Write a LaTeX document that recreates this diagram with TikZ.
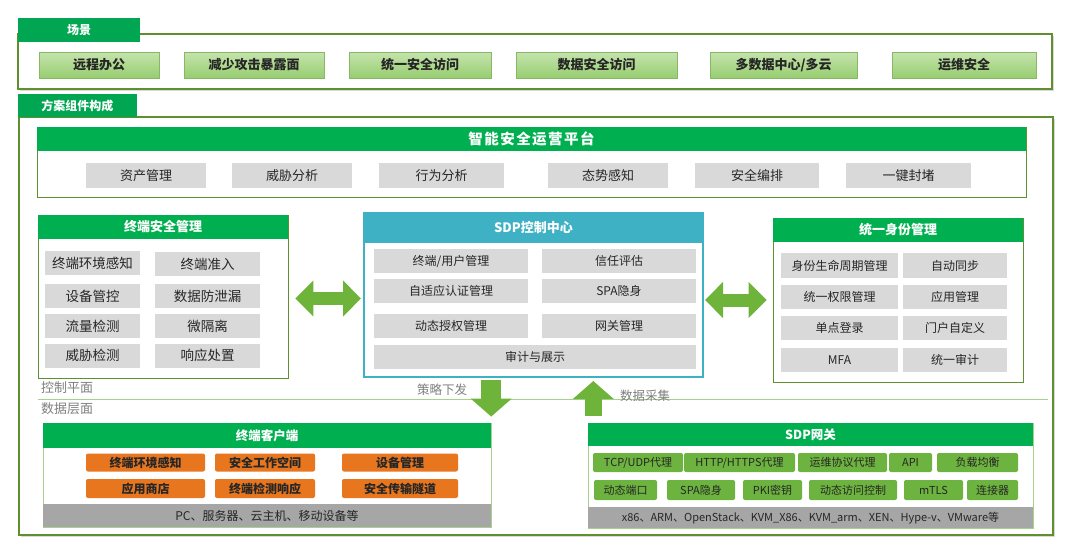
\documentclass[tikz,border=0pt]{standalone}
\usepackage{fontspec}
\setmainfont{Noto Sans CJK SC}
\usepackage{tikz}
\usetikzlibrary{arrows.meta, positioning, calc, shadows}
\definecolor{tabgreen}{HTML}{00A651}
\definecolor{headgreen}{HTML}{00B050}
\definecolor{olive}{HTML}{5F8F2F}
\definecolor{scenelt}{HTML}{C5E4AD}
\definecolor{scenedk}{HTML}{97CD70}
\definecolor{itemgray}{HTML}{D9D9D9}
\definecolor{sdpteal}{HTML}{3EB1C4}
\definecolor{arrowgreen}{HTML}{6FB43A}
\definecolor{clientorange}{HTML}{E8761E}
\definecolor{gwgreen}{HTML}{6DB33F}
\definecolor{footgray}{HTML}{A6A6A6}
\definecolor{lightline}{HTML}{A9D18E}
\definecolor{labelgray}{HTML}{7F7F7F}
\definecolor{textdark}{HTML}{262626}

\begin{document}
\begin{tikzpicture}[
    x=1pt, y=-1pt,
    tabnode/.style={fill=tabgreen, text=white, font=\fontsize{12}{14}\selectfont\bfseries, inner sep=0pt},
    outerbox/.style={draw=olive, line width=1.6pt, fill=white, inner sep=0pt,
                     drop shadow={shadow xshift=1.5pt, shadow yshift=-1.5pt, opacity=.3}},
    sceneitem/.style={draw=scenedk!90!black, line width=0.4pt, top color=scenelt, bottom color=scenedk,
                      text=textdark, font=\fontsize{13}{15}\selectfont\bfseries, inner sep=0pt, minimum height=26pt},
    panel/.style={draw=olive, line width=0.8pt, fill=white, inner sep=0pt},
    panelhead/.style={fill=headgreen, text=white, font=\fontsize{13}{15}\selectfont\bfseries,
                      inner sep=0pt, anchor=north},
    grayitem/.style={fill=itemgray, text=textdark, font=\fontsize{12}{14}\selectfont,
                     inner sep=0pt, minimum height=24pt},
    bigitem/.style={grayitem, font=\fontsize{13.5}{15}\selectfont},
    clientitem/.style={fill=clientorange, rounded corners=2pt, text=textdark,
                       font=\fontsize{12}{14}\selectfont\bfseries, inner sep=0pt},
    gwitem/.style={fill=gwgreen, rounded corners=2pt, text=textdark,
                   font=\fontsize{11}{13}\selectfont, inner sep=0pt, minimum height=19pt},
    footbar/.style={fill=footgray, text=textdark, font=\fontsize{11}{13}\selectfont,
                    inner sep=0pt, anchor=south},
    planelabel/.style={text=labelgray, font=\fontsize{13}{15}\selectfont, inner sep=0pt},
    fatboth/.style={arrowgreen, line width=13pt,
                    {Triangle[length=18pt, width=35pt]}-{Triangle[length=18pt, width=35pt]}},
    fatone/.style={arrowgreen, -{Triangle[length=18pt, width=40pt]}}
]
    \useasboundingbox (0,0) rectangle (1080,550);

    % scenarios
    \node[outerbox, minimum width=1034pt, minimum height=55pt] (scene) at (535,61.5) {};
    \node[tabnode, minimum width=122pt, minimum height=24pt] (scenetab) at (79,30) {场景};
    \node[sceneitem, minimum width=120pt] (s1) at (99,65) {远程办公};
    \node[sceneitem, minimum width=140pt] (s2) at (254,65) {减少攻击暴露面};
    \node[sceneitem, minimum width=142pt] (s3) at (420,65) {统一安全访问};
    \node[sceneitem, minimum width=161pt] (s4) at (596.5,65) {数据安全访问};
    \node[sceneitem, minimum width=147pt] (s5) at (783.5,65) {多数据中心/多云};
    \node[sceneitem, minimum width=144pt] (s6) at (964,65) {运维安全};

    % solution components
    \node[outerbox, minimum width=1034pt, minimum height=418pt] (solution) at (536,326) {};
    \node[tabnode, minimum width=119pt, minimum height=23pt] (solutiontab) at (77.5,105.5) {方案组件构成};

    % operations platform
    \node[panel, minimum width=989pt, minimum height=70pt] (soc) at (531.5,162) {};
    \node[panelhead, minimum width=989pt, minimum height=24pt,
          font=\fontsize{14.5}{16}\selectfont\bfseries\addfontfeature{LetterSpace=10}] (sochead) at (soc.north) {智能安全运营平台};
    \node[grayitem, font=\fontsize{13}{15}\selectfont, minimum width=120pt, minimum height=25pt] (p1) at (146,175.5) {资产管理};
    \node[grayitem, font=\fontsize{13}{15}\selectfont, minimum width=120pt, minimum height=25pt] (p2) at (292,175.5) {威胁分析};
    \node[grayitem, font=\fontsize{13}{15}\selectfont, minimum width=125pt, minimum height=25pt] (p3) at (441.5,175.5) {行为分析};
    \node[grayitem, font=\fontsize{13}{15}\selectfont, minimum width=120pt, minimum height=25pt] (p4) at (608,175.5) {态势感知};
    \node[grayitem, font=\fontsize{13}{15}\selectfont, minimum width=124pt, minimum height=25pt] (p5) at (757,175.5) {安全编排};
    \node[grayitem, font=\fontsize{13}{15}\selectfont, minimum width=125pt, minimum height=25pt] (p6) at (908.5,175.5) {一键封堵};

    % terminal security management
    \node[panel, minimum width=250pt, minimum height=163pt] (tsm) at (163,296.5) {};
    \node[panelhead, minimum width=250pt, minimum height=24pt] (tsmhead) at (tsm.north) {终端安全管理};
    \node[bigitem, minimum width=95pt] (t1) at (92.5,263) {终端环境感知};
    \node[bigitem, minimum width=105pt] (t2) at (207.5,264) {终端准入};
    \node[bigitem, minimum width=95pt] (t3) at (92.5,296) {设备管控};
    \node[bigitem, minimum width=105pt] (t4) at (207.5,296) {数据防泄漏};
    \node[bigitem, minimum width=95pt] (t5) at (92.5,326) {流量检测};
    \node[bigitem, minimum width=105pt] (t6) at (207.5,326) {微隔离};
    \node[bigitem, minimum width=95pt] (t7) at (92.5,355.5) {威胁检测};
    \node[bigitem, minimum width=105pt] (t8) at (207.5,355.5) {响应处置};

    % SDP controller
    \node[draw=sdpteal, line width=2pt, fill=white, inner sep=0pt,
          minimum width=339pt, minimum height=164pt] (sdp) at (533.5,295) {};
    \node[fill=sdpteal, text=white, font=\fontsize{13}{15}\selectfont\bfseries, inner sep=0pt,
          anchor=north, minimum width=339pt, minimum height=31pt] (sdphead) at (sdp.north) {SDP控制中心};
    \node[grayitem, minimum width=154pt] (c1) at (451,261) {终端/用户管理};
    \node[grayitem, minimum width=154pt] (c2) at (619,261) {信任评估};
    \node[grayitem, minimum width=154pt] (c3) at (451,291) {自适应认证管理};
    \node[grayitem, minimum width=154pt] (c4) at (619,291) {SPA隐身};
    \node[grayitem, minimum width=154pt] (c5) at (451,325.5) {动态授权管理};
    \node[grayitem, minimum width=154pt] (c6) at (619,325.5) {网关管理};
    \node[grayitem, minimum width=322pt] (c7) at (535,356.5) {审计与展示};

    % identity management
    \node[panel, minimum width=250pt, minimum height=164pt] (idm) at (898,300) {};
    \node[panelhead, minimum width=250pt, minimum height=24pt] (idmhead) at (idm.north) {统一身份管理};
    \node[grayitem, minimum width=117pt, minimum height=25pt] (i1) at (839.5,265.5) {身份生命周期管理};
    \node[grayitem, minimum width=104pt, minimum height=25pt] (i2) at (955,265.5) {自动同步};
    \node[grayitem, minimum width=117pt] (i3) at (839.5,296.5) {统一权限管理};
    \node[grayitem, minimum width=104pt] (i4) at (955,296.5) {应用管理};
    \node[grayitem, minimum width=117pt] (i5) at (839.5,328) {单点登录};
    \node[grayitem, minimum width=104pt] (i6) at (955,328) {门户自定义};
    \node[grayitem, minimum width=117pt] (i7) at (839.5,360) {MFA};
    \node[grayitem, minimum width=104pt] (i8) at (955,360) {统一审计};

    % control plane / data plane
    \draw[lightline, line width=1pt] (38,399) -- (1048,399);
    \node[planelabel, anchor=west] (ctrlplane) at (41,388) {控制平面};
    \node[planelabel, anchor=west] (dataplane) at (41,409) {数据层面};
    \node[planelabel, font=\fontsize{12.5}{14}\selectfont] (policy) at (442,390) {策略下发};
    \node[planelabel, font=\fontsize{12.5}{14}\selectfont] (collect) at (645,396) {数据采集};

    % terminal client
    \node[draw=lightline, line width=0.8pt, fill=white, inner sep=0pt,
          minimum width=448pt, minimum height=104pt] (client) at (267,475) {};
    \node[panelhead, font=\fontsize{12.5}{14}\selectfont\bfseries, minimum width=448pt, minimum height=25pt] (clienthead) at (client.north) {终端客户端};
    \node[clientitem, minimum width=119pt, minimum height=18pt] (e1) at (145.5,462.5) {终端环境感知};
    \node[clientitem, minimum width=100pt, minimum height=18pt] (e2) at (265,462.5) {安全工作空间};
    \node[clientitem, minimum width=116pt, minimum height=18pt] (e3) at (400,462.5) {设备管理};
    \node[clientitem, minimum width=119pt, minimum height=19pt] (e4) at (145.5,488.5) {应用商店};
    \node[clientitem, minimum width=100pt, minimum height=19pt] (e5) at (265,488.5) {终端检测响应};
    \node[clientitem, minimum width=116pt, minimum height=19pt] (e6) at (400,488.5) {安全传输隧道};
    \node[footbar, font=\fontsize{12}{14}\selectfont, minimum width=448pt, minimum height=23pt] (clientfoot) at (client.south) {PC、服务器、云主机、移动设备等};

    % SDP gateway
    \node[draw=lightline, line width=0.8pt, fill=white, inner sep=0pt,
          minimum width=445pt, minimum height=105pt] (gw) at (810.5,475.5) {};
    \node[panelhead, font=\fontsize{12.5}{14}\selectfont\bfseries, minimum width=445pt, minimum height=23pt] (gwhead) at (gw.north) {SDP网关};
    \node[gwitem, minimum width=90pt] (g1) at (638,462.5) {TCP/UDP代理};
    \node[gwitem, minimum width=111pt] (g2) at (739.5,462.5) {HTTP/HTTPS代理};
    \node[gwitem, minimum width=89pt] (g3) at (842.5,462.5) {运维协议代理};
    \node[gwitem, minimum width=43pt] (g4) at (910.5,462.5) {API};
    \node[gwitem, minimum width=81pt] (g5) at (977.5,462.5) {负载均衡};
    \node[gwitem, minimum width=63pt, minimum height=20pt] (g6) at (625.5,490) {动态端口};
    \node[gwitem, minimum width=68pt, minimum height=20pt] (g7) at (701,490) {SPA隐身};
    \node[gwitem, minimum width=59pt, minimum height=20pt] (g8) at (772.5,490) {PKI密钥};
    \node[gwitem, minimum width=88pt, minimum height=20pt] (g9) at (853,490) {动态访问控制};
    \node[gwitem, minimum width=59pt, minimum height=20pt] (g10) at (933.5,490) {mTLS};
    \node[gwitem, minimum width=51pt, minimum height=20pt] (g11) at (992.5,490) {连接器};
    \node[footbar, minimum width=445pt, minimum height=21pt] (gwfoot) at (gw.south)
        {x86、ARM、OpenStack、KVM\_X86、KVM\_arm、XEN、Hype-v、VMware等};

    % connectors
    \draw[fatboth, shorten <=7pt, shorten >=2pt] ([yshift=-2pt]tsm.east) -- ([yshift=-2pt]tsm.east -| sdp.west);
    \draw[fatboth, shorten <=1pt, shorten >=6pt] ([yshift=-5pt]sdp.east) -- ([yshift=-5pt]sdp.east -| idm.west);
    \draw[fatone, line width=20pt, shorten <=2pt, shorten >=6pt]
        (sdp.south -| clienthead.north east) -- (clienthead.north east);
    \draw[fatone, line width=17pt, shorten <=7pt, shorten >=3pt]
        ([xshift=5.5pt]gwhead.north west) -- ([xshift=5.5pt]gwhead.north west |- sdp.south);
\end{tikzpicture}
\end{document}
